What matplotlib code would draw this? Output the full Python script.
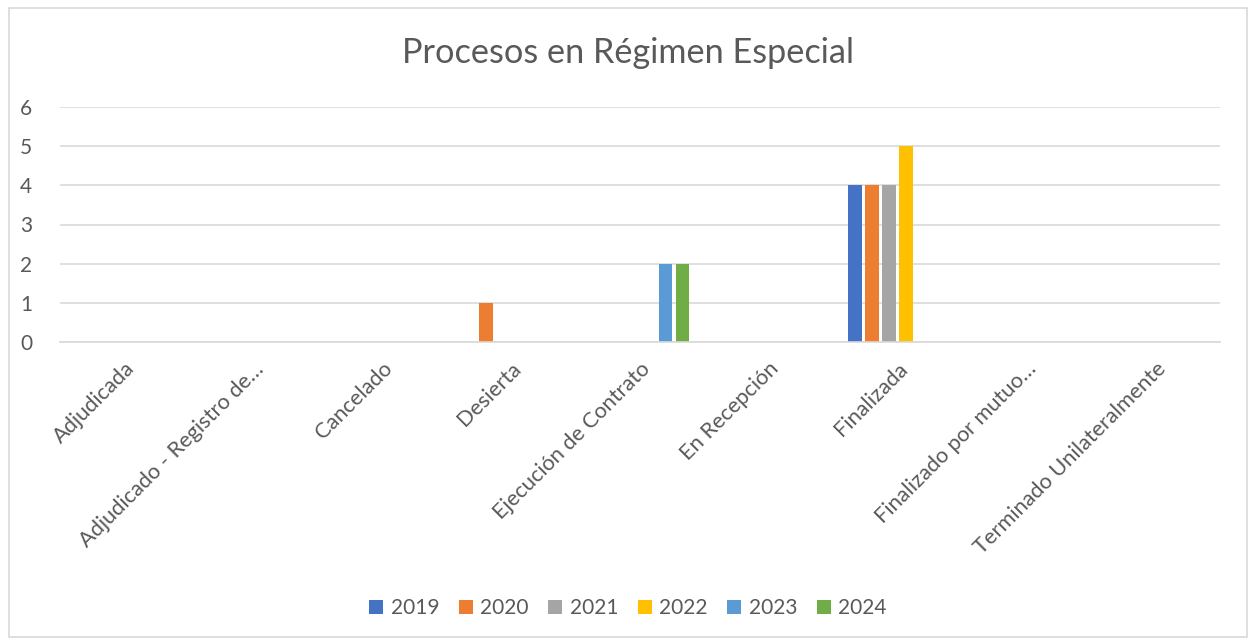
import numpy as np
import matplotlib.pyplot as plt
from matplotlib.patches import Rectangle

plt.rcParams['font.family'] = ['Lato', 'DejaVu Sans']

categories = ["Adjudicada", "Adjudicado - Registro de…", "Cancelado", "Desierta",
              "Ejecución de Contrato", "En Recepción", "Finalizada",
              "Finalizado por mutuo…", "Terminado Unilateralmente"]
years = ["2019", "2020", "2021", "2022", "2023", "2024"]
values = {
    "2019": [0, 0, 0, 0, 0, 0, 4, 0, 0],
    "2020": [0, 0, 0, 1, 0, 0, 4, 0, 0],
    "2021": [0, 0, 0, 0, 0, 0, 4, 0, 0],
    "2022": [0, 0, 0, 0, 0, 0, 5, 0, 0],
    "2023": [0, 0, 0, 0, 2, 0, 0, 0, 0],
    "2024": [0, 0, 0, 0, 2, 0, 0, 0, 0],
}
colors = ["#4472C4", "#ED7D31", "#A5A5A5", "#FFC000", "#5B9BD5", "#70AD47"]

text_col = "#595959"
grid_col = "#D9D9D9"

fig = plt.figure(figsize=(12.56, 6.43), dpi=100)
fig.patches.append(Rectangle((0.007, 0.01), 0.986, 0.978, transform=fig.transFigure,
                             fill=False, edgecolor=grid_col, linewidth=1.2))
ax = fig.add_axes([60 / 1256, 1 - 342 / 643, 1160 / 1256, 235 / 643])

x = np.arange(len(categories))
step = 0.132
width = 0.108
for i, y in enumerate(years):
    ax.bar(x + (i - 2.5) * step, values[y], width=width, color=colors[i], label=y)

ax.set_xlim(-0.5, len(categories) - 0.5)
ax.set_ylim(0, 6)
ax.set_yticks(range(7))
ax.yaxis.grid(True, color=grid_col, linewidth=1.2)
ax.set_axisbelow(True)
for s in ["top", "right", "left"]:
    ax.spines[s].set_visible(False)
ax.spines["bottom"].set_color(grid_col)
ax.spines["bottom"].set_linewidth(1.2)
ax.tick_params(axis="both", length=0, colors=text_col, labelsize=15)
ax.tick_params(axis="y", pad=20)
ax.set_xticks(x)
ax.set_xticklabels(categories, rotation=45, ha="right", rotation_mode="anchor",
                   fontsize=15.7)
ax.tick_params(axis="x", pad=12)

fig.text(0.5, 1 - 53 / 643, "Procesos en Régimen Especial", ha="center", va="center",
         fontsize=24.7, color=text_col)

fig.legend(loc="center", bbox_to_anchor=(0.5, 1 - 608 / 643), ncol=6, frameon=False,
           fontsize=15, labelcolor=text_col, handlelength=0.67, handleheight=0.67,
           handletextpad=0.35, columnspacing=0.95)

fig.savefig("out.png", dpi=100)
